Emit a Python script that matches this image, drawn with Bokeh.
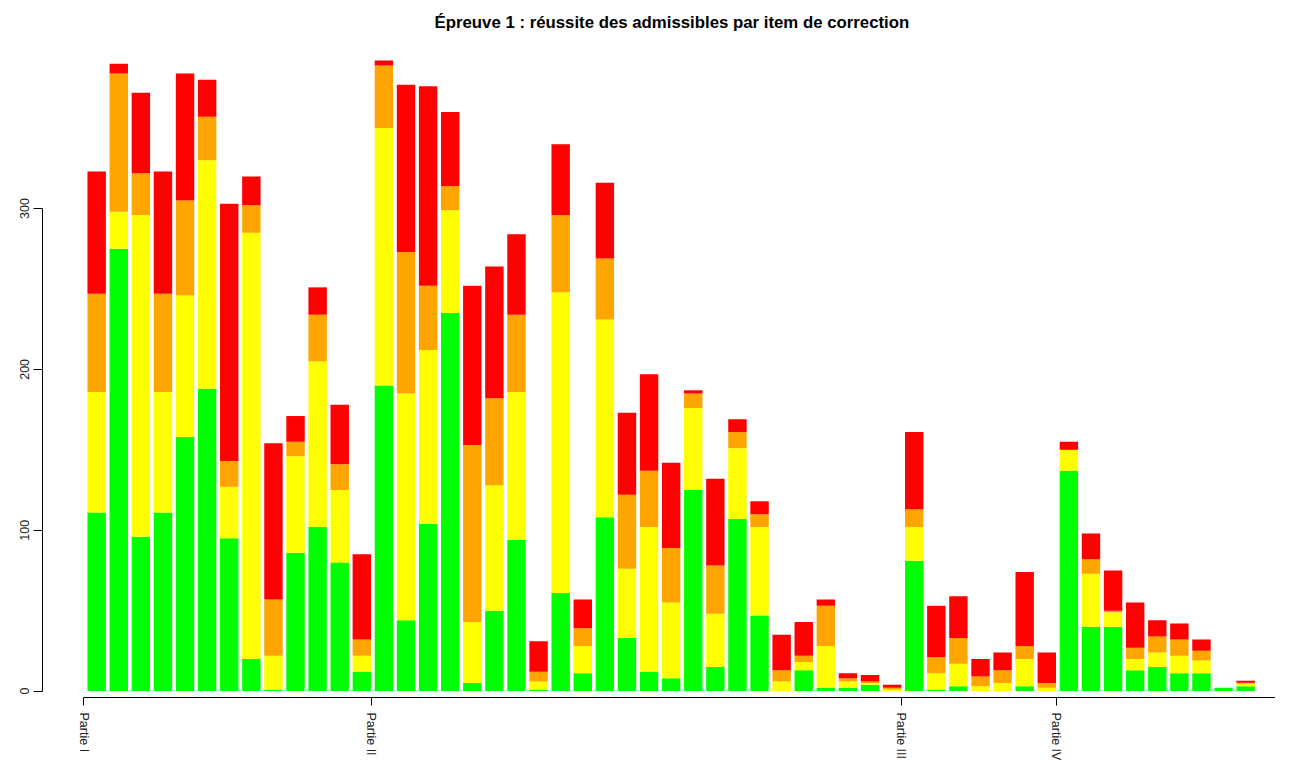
from bokeh.plotting import figure
from bokeh.models import Range1d, FixedTicker, ColumnDataSource
from bokeh.embed import file_html
from bokeh.resources import INLINE

# ---- data (counts per correction item, stacked bottom -> top) ----
items = list(range(1, 54))
vert = [111, 275, 96, 111, 158, 188, 95, 20, 1, 86, 102, 80, 12,
        190, 44, 104, 235, 5, 50, 94, 1, 61, 11, 108, 33, 12, 8, 125, 15, 107, 47, 0, 13, 2, 2, 4, 0,
        81, 1, 3, 0, 0, 3, 0,
        137, 40, 40, 13, 15, 11, 11, 2, 3]
jaune = [75, 23, 200, 75, 88, 142, 32, 265, 21, 60, 103, 45, 10,
         160, 141, 108, 64, 38, 78, 92, 5, 187, 17, 123, 43, 90, 47, 51, 33, 44, 55, 6, 5, 26, 4, 1, 1,
         21, 10, 14, 3, 5, 17, 2,
         13, 33, 9, 7, 9, 11, 8, 0, 1.5]
orange = [61, 86, 26, 61, 59, 27, 16, 17, 35, 9, 29, 16, 10,
          39, 88, 40, 15, 110, 54, 48, 6, 48, 11, 38, 46, 35, 34, 9, 30, 10, 8, 7, 4, 25, 2, 1, 1,
          11, 10, 16, 6, 8, 8, 3,
          0, 9, 1, 7, 10, 10, 6, 0, 0.7]
rouge = [76, 6, 50, 76, 79, 23, 160, 18, 97, 16, 17, 37, 53,
         3, 104, 124, 46, 99, 82, 50, 19, 44, 18, 47, 51, 60, 53, 2, 54, 8, 8, 22, 21, 4, 3, 4, 2,
         48, 32, 26, 11, 11, 46, 19,
         5, 16, 25, 28, 10, 10, 7, 0, 1.2]

parties = ["Partie I", "Partie II", "Partie III", "Partie IV"]
partie_start = [0, 13, 37, 44]   # index of first item of each part

y_ticks = [0, 100, 200, 300]
colors = ["#00FF00", "#FFFF00", "#FFA500", "#FF0000"]

# ---- layout (R barplot style: pitch 6, bar width 5, gap 1) ----
pitch = 6
xs = [pitch * i + 3.5 for i in range(len(items))]
tick_pos = [pitch * i for i in partie_start]

src = ColumnDataSource(dict(x=xs, vert=vert, jaune=jaune, orange=orange, rouge=rouge))

x0, x1 = -11.21, 323.6
y0, y1 = -4.0, 405.1

p = figure(width=1275, height=763, x_range=Range1d(x0, x1), y_range=Range1d(y0, y1),
           output_backend="svg", toolbar_location=None,
           min_border_left=42, min_border_right=0, min_border_top=39, min_border_bottom=60)

p.vbar_stack(["vert", "jaune", "orange", "rouge"], x="x", width=5, source=src,
             fill_color=colors, line_color=None)

p.title.text = "Épreuve 1 : réussite des admissibles par item de correction"
p.title.align = "left"
p.title.offset = 392
p.title.standoff = 15
p.title.text_font = "Liberation Sans"
p.title.text_font_size = "16.8px"
p.title.text_font_style = "bold"
p.title.text_color = "black"

p.xgrid.visible = False
p.ygrid.visible = False
p.outline_line_color = None
p.background_fill_color = "white"
p.border_fill_color = "white"

# x axis
p.xaxis.ticker = FixedTicker(ticks=tick_pos)
p.xaxis.major_label_overrides = {t: lab for t, lab in zip(tick_pos, parties)}
p.xaxis.major_label_orientation = "vertical"
p.xaxis.bounds = (0, x1)
p.xaxis.major_tick_in = 0
p.xaxis.major_tick_out = 8
p.xaxis.minor_tick_line_color = None
p.xaxis.major_label_standoff = 7

# y axis
p.yaxis.ticker = FixedTicker(ticks=y_ticks)
p.yaxis.major_label_orientation = "vertical"
p.yaxis.bounds = (0, 300)
p.yaxis.major_tick_in = 0
p.yaxis.major_tick_out = 9
p.yaxis.minor_tick_line_color = None
p.yaxis.major_label_standoff = 4

for ax in (p.xaxis, p.yaxis):
    ax.axis_line_color = "black"
    ax.major_tick_line_color = "black"
    ax.major_label_text_font = "Liberation Sans"
    ax.major_label_text_font_size = "12.5px"
    ax.major_label_text_color = "#222222"

open("out.html", "w").write(file_html(p, INLINE))
